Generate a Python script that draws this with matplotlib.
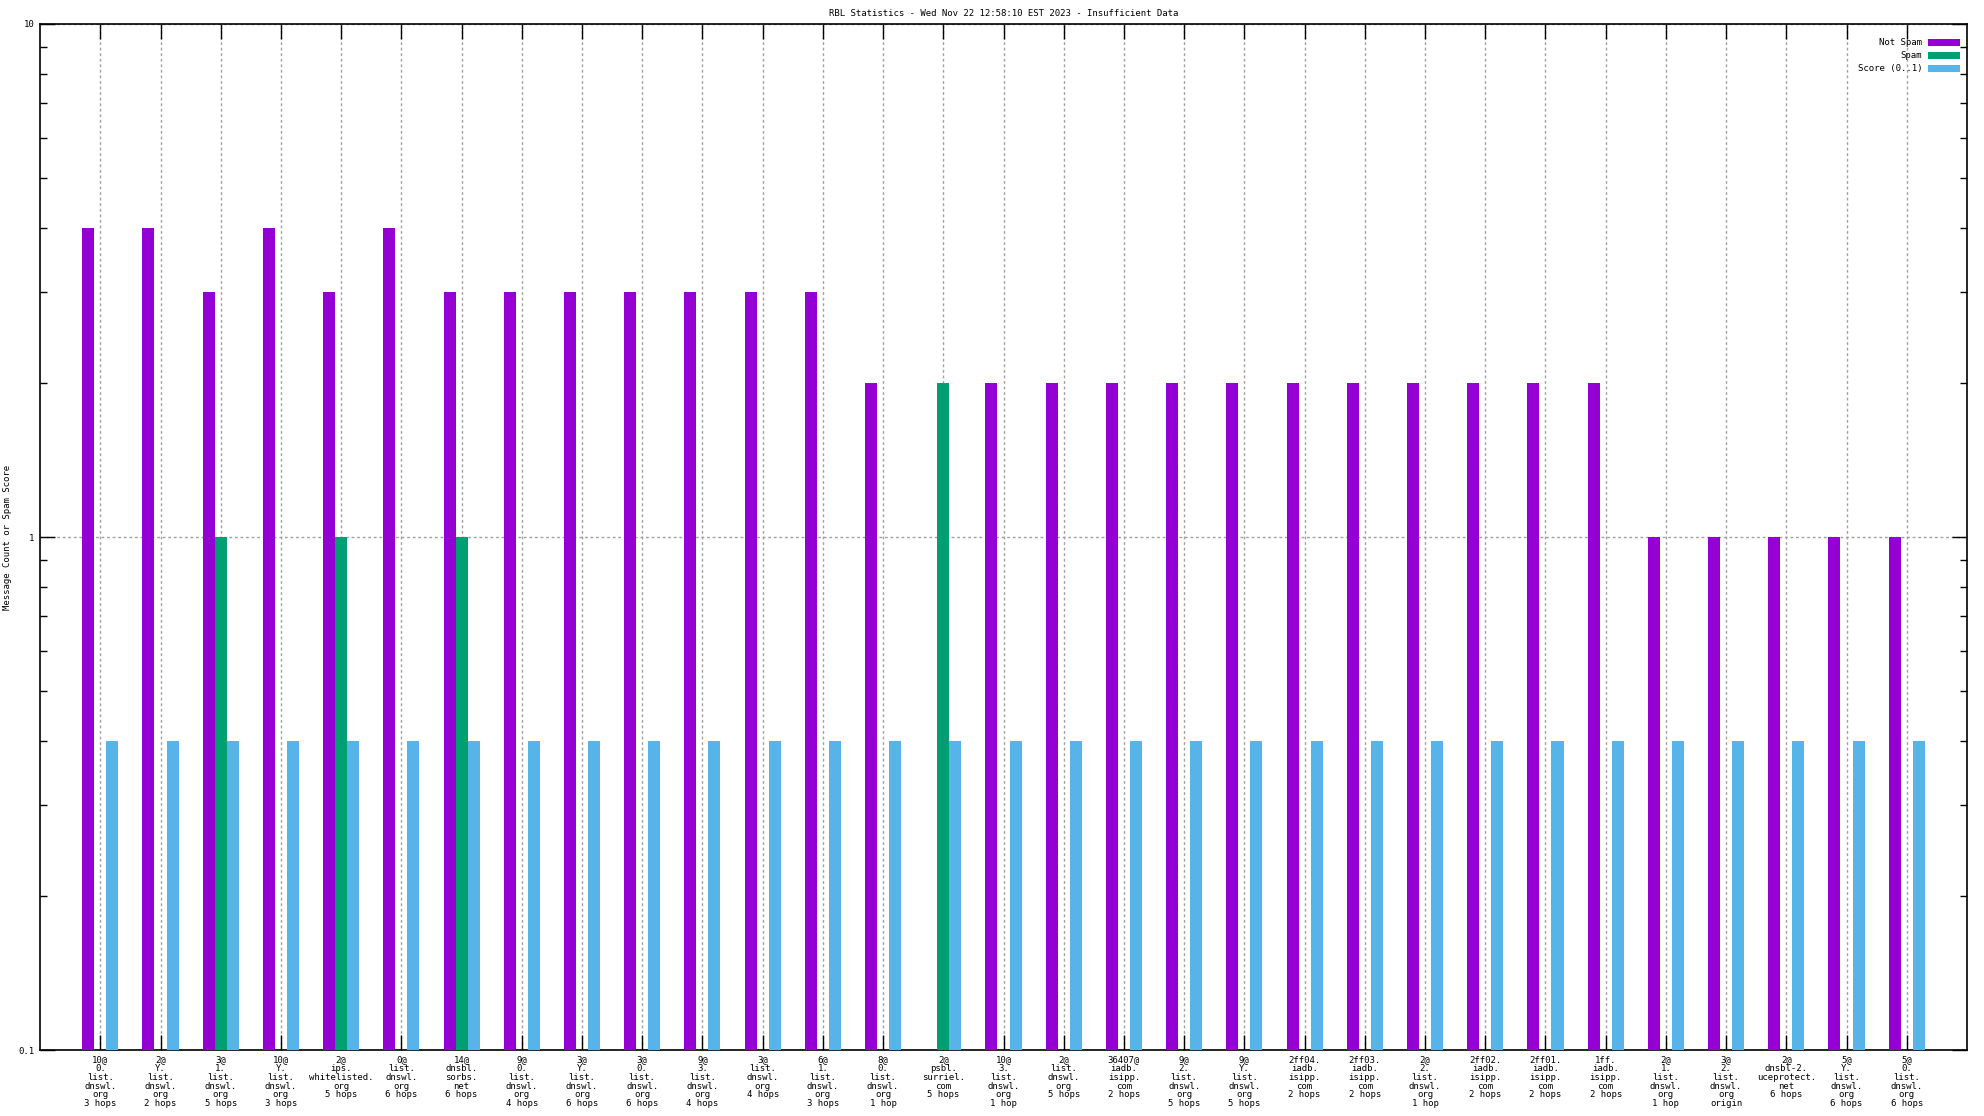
import numpy as np
import matplotlib
matplotlib.use("Agg")
import matplotlib.pyplot as plt
from matplotlib.ticker import LogLocator, NullFormatter, FixedLocator

# RBL entries (host label under each group)
labels = [
    "10@\n0.\nlist.\ndnswl.\norg\n3 hops",
    "2@\nY.\nlist.\ndnswl.\norg\n2 hops",
    "3@\n1.\nlist.\ndnswl.\norg\n5 hops",
    "10@\nY.\nlist.\ndnswl.\norg\n3 hops",
    "2@\nips.\nwhitelisted.\norg\n5 hops",
    "0@\nlist.\ndnswl.\norg\n6 hops",
    "14@\ndnsbl.\nsorbs.\nnet\n6 hops",
    "9@\n0.\nlist.\ndnswl.\norg\n4 hops",
    "3@\nY.\nlist.\ndnswl.\norg\n6 hops",
    "3@\n0.\nlist.\ndnswl.\norg\n6 hops",
    "9@\n3.\nlist.\ndnswl.\norg\n4 hops",
    "3@\nlist.\ndnswl.\norg\n4 hops",
    "6@\n1.\nlist.\ndnswl.\norg\n3 hops",
    "8@\n0.\nlist.\ndnswl.\norg\n1 hop",
    "2@\npsbl.\nsurriel.\ncom\n5 hops",
    "10@\n3.\nlist.\ndnswl.\norg\n1 hop",
    "2@\nlist.\ndnswl.\norg\n5 hops",
    "36407@\niadb.\nisipp.\ncom\n2 hops",
    "9@\n2.\nlist.\ndnswl.\norg\n5 hops",
    "9@\nY.\nlist.\ndnswl.\norg\n5 hops",
    "2ff04.\niadb.\nisipp.\ncom\n2 hops",
    "2ff03.\niadb.\nisipp.\ncom\n2 hops",
    "2@\n2.\nlist.\ndnswl.\norg\n1 hop",
    "2ff02.\niadb.\nisipp.\ncom\n2 hops",
    "2ff01.\niadb.\nisipp.\ncom\n2 hops",
    "1ff.\niadb.\nisipp.\ncom\n2 hops",
    "2@\n1.\nlist.\ndnswl.\norg\n1 hop",
    "3@\n2.\nlist.\ndnswl.\norg\norigin",
    "2@\ndnsbl-2.\nuceprotect.\nnet\n6 hops",
    "5@\nY.\nlist.\ndnswl.\norg\n6 hops",
    "5@\n0.\nlist.\ndnswl.\norg\n6 hops",
]
not_spam = [4, 4, 3, 4, 3, 4, 3, 3, 3, 3, 3, 3, 3, 2, 0, 2, 2, 2, 2, 2,
            2, 2, 2, 2, 2, 2, 1, 1, 1, 1, 1]
spam = [0, 0, 1, 0, 1, 0, 1, 0, 0, 0, 0, 0, 0, 0, 2, 0, 0, 0, 0, 0,
        0, 0, 0, 0, 0, 0, 0, 0, 0, 0, 0]
score = [0.4] * 31

title = "RBL Statistics - Wed Nov 22 12:58:10 EST 2023 - Insufficient Data"

FONT = "DejaVu Sans Mono"
FS = 6.5

fig, ax = plt.subplots(figsize=(19.84, 11.16), dpi=100)
fig.subplots_adjust(left=0.0202, right=0.9914, top=0.9785, bottom=0.0591)

x = np.arange(len(labels))
w = 0.2
floor = 0.1


def nz(v):
    v = np.asarray(v, dtype=float)
    return np.where(v > 0, v - floor, np.nan)


ax.set_yscale("log")
ax.bar(x - w, nz(not_spam), w, bottom=floor, color="#9400D3", label="Not Spam", zorder=3)
ax.bar(x, nz(spam), w, bottom=floor, color="#009E73", label="Spam", zorder=3)
ax.bar(x + w, nz(score), w, bottom=floor, color="#56B4E9", label="Score (0..1)", zorder=3)

ax.set_xlim(-1, 31)
ax.set_ylim(0.1, 10)

ax.set_xticks(x)
ax.set_xticklabels(labels, fontsize=FS, family=FONT, linespacing=0.95)
ax.yaxis.set_major_locator(FixedLocator([0.1, 1, 10]))
ax.set_yticklabels(["0.1", "1", "10"], fontsize=FS, family=FONT)
ax.yaxis.set_minor_locator(LogLocator(base=10, subs=np.arange(2, 10)))
ax.yaxis.set_minor_formatter(NullFormatter())

ax.tick_params(axis="both", which="major", direction="in", length=11, width=1,
               top=True, right=True, labelright=False, pad=4)
ax.tick_params(axis="y", which="minor", direction="in", length=5, width=1,
               left=True, right=True)

ax.grid(True, which="major", axis="both", linestyle=(0, (2, 2)),
        color="#a0a0a0", linewidth=1, zorder=0)
for s in ax.spines.values():
    s.set_linewidth(1.2)

ax.set_ylabel("Message Count or Spam Score", fontsize=FS, family=FONT)
ax.yaxis.set_label_coords(-0.0145, 0.5)
ax.set_title(title, fontsize=FS, family=FONT, pad=6)

ax.legend(loc="upper right", bbox_to_anchor=(0.9965, 0.986), markerfirst=False,
          frameon=False, prop={"family": FONT, "size": FS}, handlelength=3.6,
          handleheight=0.8, labelspacing=0.45, borderaxespad=0, borderpad=0,
          handletextpad=0.6)

fig.savefig("out.png", dpi=100)
